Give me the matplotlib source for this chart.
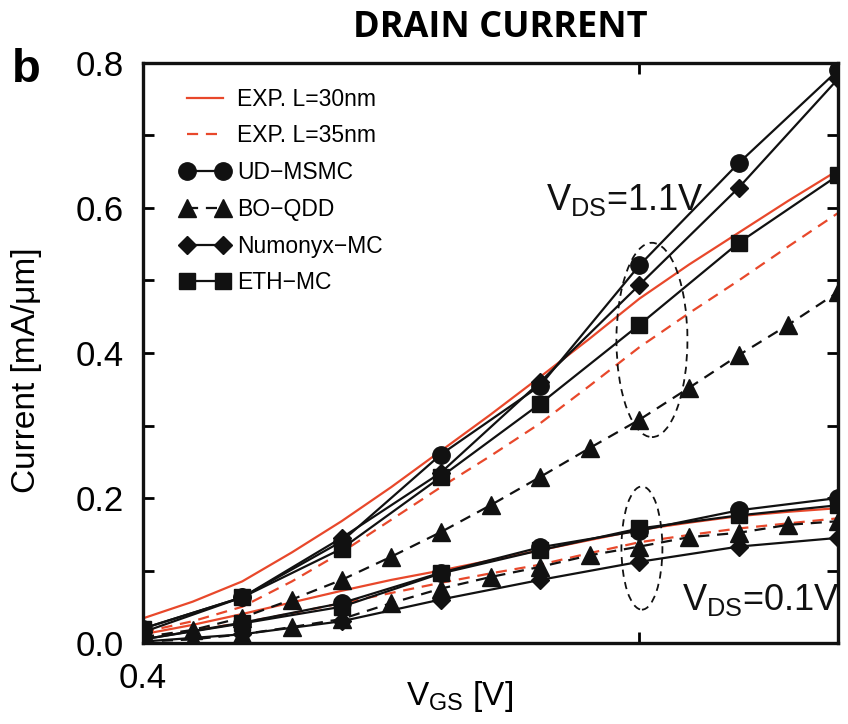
import matplotlib
matplotlib.use("Agg")
import matplotlib.pyplot as plt
from matplotlib import font_manager
from matplotlib.patches import Ellipse
import numpy as np

names = {f.name for f in font_manager.fontManager.ttflist}
NARROW = "Liberation Sans Narrow" if "Liberation Sans Narrow" in names else "Liberation Sans"
plt.rcParams['font.family'] = [NARROW, 'DejaVu Sans']
plt.rcParams['mathtext.fontset'] = 'custom'
plt.rcParams['mathtext.rm'] = NARROW
plt.rcParams['mathtext.it'] = NARROW

# ---------------- data ----------------
vgs = [0.4, 0.5, 0.6, 0.7, 0.8, 0.9, 1.0, 1.1]
vgs_fine = [0.4, 0.45, 0.5, 0.55, 0.6, 0.65, 0.7, 0.75, 0.8, 0.85, 0.9, 0.95, 1.0, 1.05, 1.1]

exp30_hi = [0.034, 0.057, 0.085, 0.125, 0.168, 0.215, 0.265, 0.315, 0.367,
            0.420, 0.475, 0.522, 0.566, 0.610, 0.652]
exp35_hi = [0.015, 0.030, 0.050, 0.085, 0.125, 0.170, 0.215, 0.258, 0.303,
            0.355, 0.408, 0.455, 0.500, 0.547, 0.593]
exp30_lo = [0.012, 0.025, 0.040, 0.056, 0.072, 0.087, 0.100, 0.114, 0.128,
            0.142, 0.156, 0.166, 0.175, 0.181, 0.186]
exp35_lo = [0.008, 0.017, 0.028, 0.041, 0.055, 0.069, 0.083, 0.096, 0.108,
            0.124, 0.139, 0.149, 0.158, 0.165, 0.172]

ud_hi = [0.020, 0.063, 0.140, 0.260, 0.355, 0.521, 0.662, 0.790]
num_hi = [0.015, 0.063, 0.145, 0.235, 0.360, 0.494, 0.628, 0.778]
eth_hi = [0.020, 0.063, 0.130, 0.229, 0.330, 0.439, 0.552, 0.645]
bo_hi = [0.008, 0.018, 0.035, 0.060, 0.087, 0.119, 0.153, 0.190, 0.229,
         0.269, 0.308, 0.352, 0.397, 0.439, 0.484]

ud_lo = [0.005, 0.028, 0.055, 0.097, 0.132, 0.155, 0.183, 0.200]
eth_lo = [0.005, 0.027, 0.050, 0.096, 0.128, 0.158, 0.176, 0.190]
num_lo = [0.002, 0.012, 0.030, 0.060, 0.087, 0.112, 0.133, 0.145]
bo_lo = [0.002, 0.005, 0.012, 0.022, 0.033, 0.055, 0.075, 0.091, 0.105,
         0.121, 0.133, 0.146, 0.152, 0.163, 0.168]

legend_labels = ["EXP. L=30nm", "EXP. L=35nm", "UD\u2212MSMC", "BO\u2212QDD",
                 "Numonyx\u2212MC", "ETH\u2212MC"]
ytick_vals = [0.0, 0.2, 0.4, 0.6, 0.8]
xtick_vals = [0.4, 0.9]
xtick_labels = ["0.4", ""]

RED = "#e8482b"
BLK = "#111111"

fig = plt.figure(figsize=(8.48, 7.24), dpi=100)
ax = fig.add_axes([143/848, 1-643/724, (838-143)/848, (643-63)/724])

lw = 1.6
DASH = (0, (5, 3.5))
h30, = ax.plot(vgs_fine, exp30_hi, color=RED, lw=1.6, zorder=2)
h35, = ax.plot(vgs_fine, exp35_hi, color=RED, lw=1.6, ls=DASH, zorder=2)
ax.plot(vgs_fine, exp30_lo, color=RED, lw=1.6, zorder=2)
ax.plot(vgs_fine, exp35_lo, color=RED, lw=1.6, ls=DASH, zorder=2)

hud, = ax.plot(vgs, ud_hi, color=BLK, lw=lw, marker='o', ms=12.5, zorder=3)
ax.plot(vgs, ud_lo, color=BLK, lw=lw, marker='o', ms=12.5, zorder=3)
hbo, = ax.plot(vgs_fine, bo_hi, color=BLK, lw=lw, ls=DASH, marker='^', ms=13, zorder=3)
ax.plot(vgs_fine, bo_lo, color=BLK, lw=lw, ls=DASH, marker='^', ms=13, zorder=3)
hnum, = ax.plot(vgs, num_hi, color=BLK, lw=lw, marker='D', ms=9, zorder=3)
ax.plot(vgs, num_lo, color=BLK, lw=lw, marker='D', ms=9, zorder=3)
heth, = ax.plot(vgs, eth_hi, color=BLK, lw=lw, marker='s', ms=11.5, zorder=3)
ax.plot(vgs, eth_lo, color=BLK, lw=lw, marker='s', ms=11.5, zorder=3)

ax.add_patch(Ellipse((0.9126, 0.418), 0.0715, 0.268, fill=False, ec=BLK,
                     lw=1.3, ls=(0, (4, 3)), zorder=4))
ax.add_patch(Ellipse((0.9025, 0.131), 0.0413, 0.170, fill=False, ec=BLK,
                     lw=1.3, ls=(0, (4, 3)), zorder=4))

ax.set_xlim(0.4, 1.1)
ax.set_ylim(0.0, 0.8)
ax.set_xticks(xtick_vals)
ax.set_xticklabels(xtick_labels)
ax.set_yticks(ytick_vals)
ax.set_yticklabels([f"{v:.1f}" for v in ytick_vals])
ax.set_yticks(np.arange(0.1, 0.8, 0.2), minor=True)
ax.tick_params(axis='both', which='both', direction='in', top=True, right=True,
               width=2, labelsize=25, pad=14, length=8)
for s in ax.spines.values():
    s.set_linewidth(2.4)
    s.set_color(BLK)

ax.set_ylabel("Current [mA/\u03bcm]", fontsize=24)
ax.yaxis.set_label_coords(-0.145, 0.47)
ax.set_xlabel(r"$\mathrm{V_{GS}}$ [V]", fontsize=24)
ax.xaxis.set_label_coords(0.456, -0.062)

leg = ax.legend([h30, h35, hud, hbo, hnum, heth], legend_labels, loc='upper left',
                frameon=False, numpoints=2, handlelength=2.2,
                handletextpad=0.3, labelspacing=0.6, borderaxespad=0.3,
                bbox_to_anchor=(0.03, 0.985),
                prop={'family': ['Liberation Sans', 'DejaVu Sans'], 'size': 16.5})

ax.text(0.58, 0.795, r"$\mathrm{V_{DS}}$=1.1V", transform=ax.transAxes,
        fontsize=26, ha='left', va='top', color=BLK)
ax.text(0.775, 0.106, r"$\mathrm{V_{DS}}$=0.1V", transform=ax.transAxes,
        fontsize=26, ha='left', va='top', color=BLK)

fig.text(500/848, 1-28/724, "DRAIN CURRENT", ha='center', va='center',
         fontsize=26, fontweight='bold', family=['Open Sans', 'DejaVu Sans'])
fig.text(12/848, 1-70/724, "b", ha='left', va='center', fontsize=34,
         fontweight='bold', family=['Liberation Sans', 'DejaVu Sans'])

fig.savefig("out.png", dpi=100)
